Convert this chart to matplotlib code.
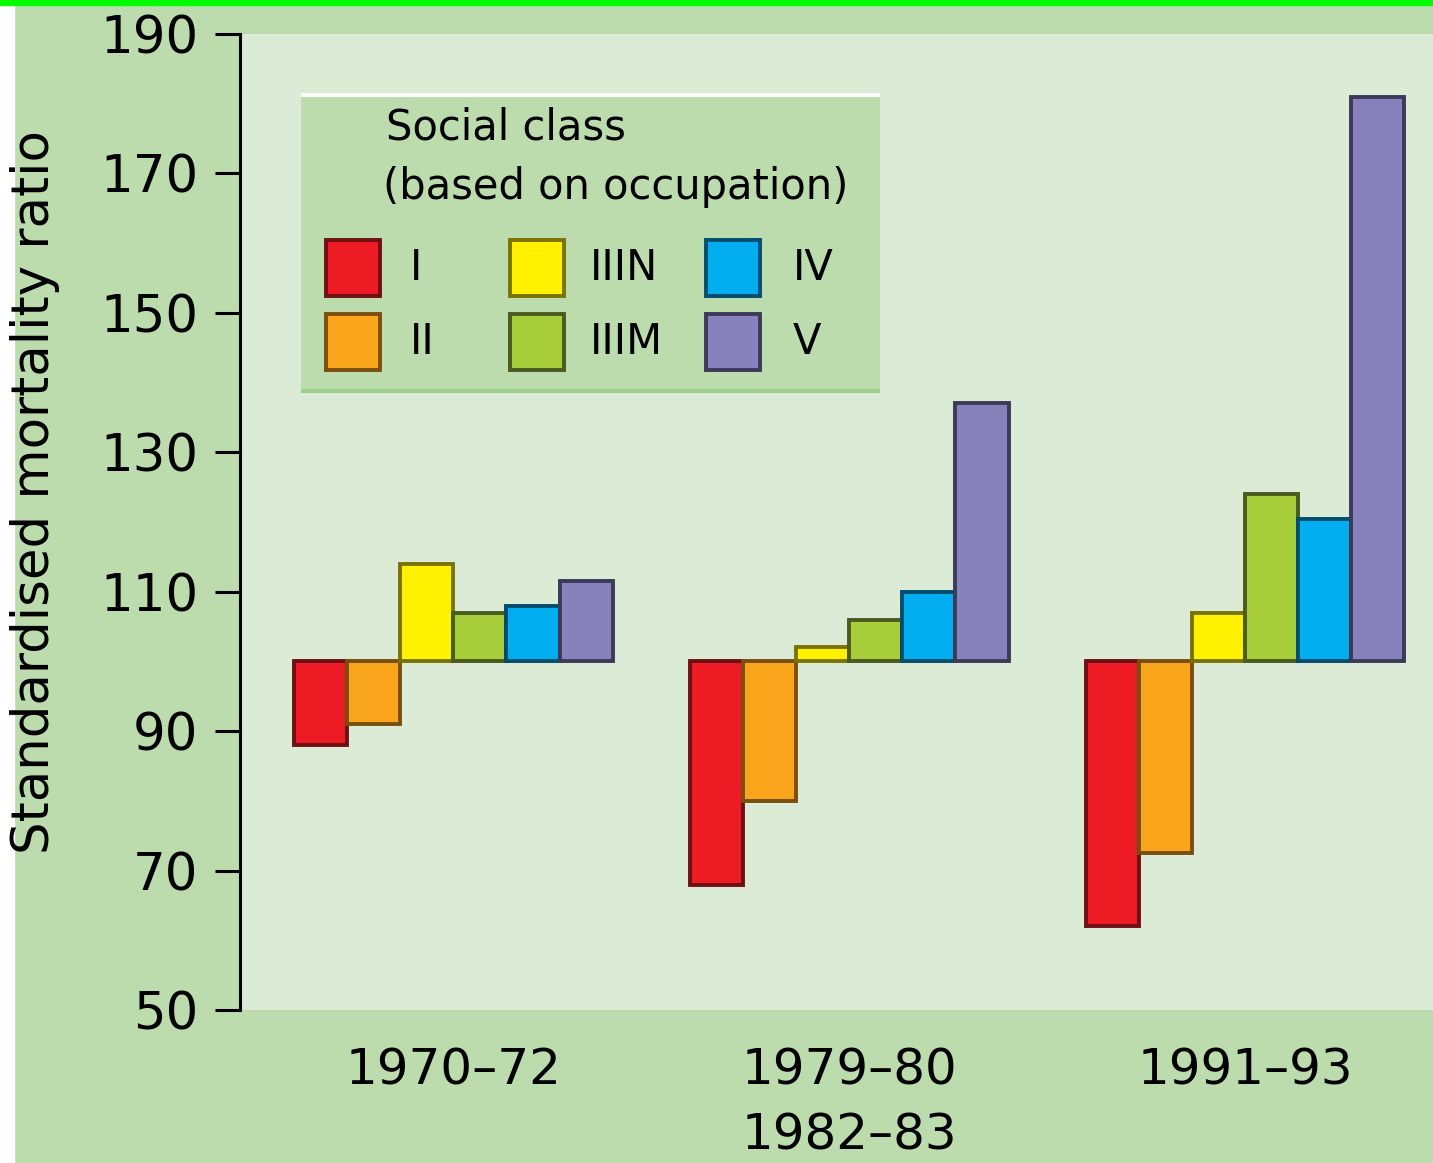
import numpy as np
import matplotlib.pyplot as plt
from matplotlib.patches import Rectangle

# =========================
# DATA
# =========================
periods = ["1970–72", "1979–80\n1982–83", "1991–93"]
classes = ["I", "II", "IIIN", "IIIM", "IV", "V"]

smr_I = [88, 68, 62]
smr_II = [91, 80, 72.5]
smr_IIIN = [114, 102, 107]
smr_IIIM = [107, 106, 124]
smr_IV = [108, 110, 120.5]
smr_V = [111.5, 137, 181]

yticks = [50, 70, 90, 110, 130, 150, 170, 190]

# =========================
# STYLE
# =========================
faces = ["#ed1c24", "#f9a61c", "#fff200", "#a7ce3a", "#00aeef", "#8882bc"]
edges = ["#6e1014", "#7a4e0c", "#7a7300", "#4a5a20", "#004d6e", "#3c3a58"]
outer_bg = "#bcdcad"
inner_bg = "#dbebd6"
FONT = "DejaVu Sans"

W, H = 1433, 1163


def fx(px):
    return px / W


def fy(py):
    return 1 - py / H


fig = plt.figure(figsize=(W / 100, H / 100), dpi=100)
fig.patch.set_facecolor(outer_bg)

# white strip on the left and green line on top
fig.add_artist(Rectangle((0, 0), fx(14), 1, transform=fig.transFigure,
                         color="white", zorder=0))
fig.add_artist(Rectangle((0, fy(5)), 1, 5 / H, transform=fig.transFigure,
                         color="#00ff00", zorder=0))

ax = fig.add_axes([fx(240), fy(1010), 1193 / W, 976 / H])
ax.set_facecolor(inner_bg)

# =========================
# BARS
# =========================
series = [smr_I, smr_II, smr_IIIN, smr_IIIM, smr_IV, smr_V]
x = np.arange(len(periods))
w = 0.134
for i, vals in enumerate(series):
    ax.bar(x + (i - 2.5) * w, [v - 100 for v in vals], bottom=100, width=w,
           facecolor=faces[i], edgecolor=edges[i], linewidth=2.8, zorder=3)

ax.set_xlim(-0.539, 2.474)
ax.set_ylim(50, 190)

for s in ["top", "right", "bottom"]:
    ax.spines[s].set_visible(False)
ax.spines["left"].set_linewidth(2.2)
ax.spines["left"].set_color("black")

ax.set_yticks(yticks)
ax.set_yticklabels([str(t) for t in yticks], fontsize=37, family=FONT)
ax.tick_params(axis="y", length=18, width=2.2, pad=12)

ax.set_xticks(x)
ax.set_xticklabels(periods, fontsize=36, family=FONT, linespacing=1.45)
ax.tick_params(axis="x", length=0, pad=26)

fig.text(fx(35), fy(492), "Standardised mortality ratio", rotation=90,
         ha="center", va="center", fontsize=37, family=FONT)

# =========================
# LEGEND (drawn by hand)
# =========================
box_l, box_r, box_t, box_b = 301, 880, 93, 393
fig.add_artist(Rectangle((fx(box_l), fy(box_b)), fx(box_r - box_l), (box_b - box_t) / H,
                         transform=fig.transFigure, facecolor=outer_bg,
                         edgecolor="none", zorder=5))
fig.add_artist(Rectangle((fx(box_l), fy(97)), fx(box_r - box_l), 4 / H,
                         transform=fig.transFigure, facecolor="white",
                         edgecolor="none", zorder=6))
fig.add_artist(Rectangle((fx(box_l), fy(box_b)), fx(box_r - box_l), 4 / H,
                         transform=fig.transFigure, facecolor="#9ccf8a",
                         edgecolor="none", zorder=6))

fig.text(fx(386), fy(128), "Social class", ha="left", va="center",
         fontsize=30, family=FONT, zorder=7)
fig.text(fx(383), fy(187), "(based on occupation)", ha="left", va="center",
         fontsize=30, family=FONT, zorder=7)

sw_x = [326, 510, 706]
lab_x = [410, 590, 793]
row_y = [240, 314]
for i, cls in enumerate(classes):
    col, row = i // 2, i % 2
    fig.add_artist(Rectangle((fx(sw_x[col]), fy(row_y[row] + 56)), fx(54), 56 / H,
                             transform=fig.transFigure, facecolor=faces[i],
                             edgecolor=edges[i], linewidth=2.8, zorder=7))
    fig.text(fx(lab_x[col]), fy(row_y[row] + 28), cls, ha="left", va="center",
             fontsize=30, family=FONT, zorder=7)

fig.savefig("out.png", dpi=100, facecolor=fig.get_facecolor())
